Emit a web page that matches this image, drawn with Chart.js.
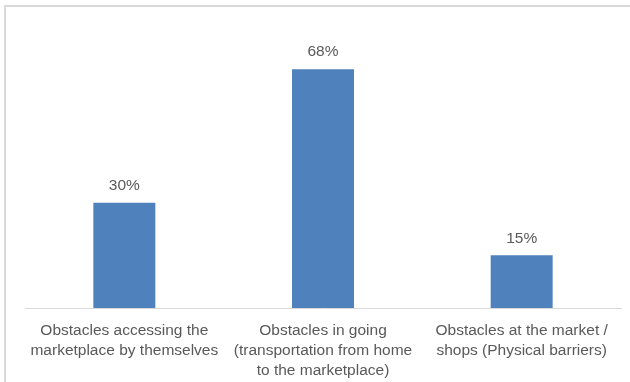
<!DOCTYPE html>
<html>
<head>
<meta charset="utf-8">
<script src="https://cdn.jsdelivr.net/npm/chart.js@4/dist/chart.umd.min.js"></script>
<style>
  html, body { margin: 0; padding: 0; background: #ffffff; }
  body { width: 630px; height: 382px; position: relative; overflow: hidden; }
  #frame {
    position: absolute; left: 4px; top: 5px; width: 700px; height: 460px;
    border-left: 2px solid #d9d9d9; border-top: 2px solid #d9d9d9;
    box-sizing: border-box;
  }
  #wrap { position: absolute; left: 0; top: 0; width: 630px; height: 382px; }
</style>
</head>
<body>
<div id="frame"></div>
<div id="wrap"><canvas id="chart" width="630" height="382"></canvas></div>
<script>
// Categories (one array of lines per label) and their shares in percent
const categories = [
  ["Obstacles accessing the", "marketplace by themselves"],
  ["Obstacles in going", "(transportation from home", "to the marketplace)"],
  ["Obstacles at the market /", "shops (Physical barriers)"]
];
const shares = [30, 68, 15];

const textColor = "#595959";
const fontFamily = "'Liberation Sans', Arial, sans-serif";

// Writes the percentage above each bar
const valueLabels = {
  id: "valueLabels",
  afterDatasetsDraw(chart) {
    const ctx = chart.ctx;
    const meta = chart.getDatasetMeta(0);
    ctx.save();
    ctx.font = "15.5px " + fontFamily;
    ctx.fillStyle = textColor;
    ctx.textAlign = "center";
    ctx.textBaseline = "middle";
    meta.data.forEach((bar, i) => {
      ctx.fillText(chart.data.datasets[0].data[i] + "%", bar.x, bar.y - 17);
    });
    ctx.restore();
  }
};

new Chart(document.getElementById("chart"), {
  type: "bar",
  data: {
    labels: categories,
    datasets: [{
      data: shares,
      backgroundColor: "#4F81BD",
      borderWidth: 0,
      categoryPercentage: 1,
      barPercentage: 0.312
    }]
  },
  options: {
    responsive: false,
    animation: false,
    layout: { padding: { left: 25, right: 9, top: 27, bottom: 0 } },
    plugins: { legend: { display: false }, tooltip: { enabled: false } },
    scales: {
      y: { display: false, min: 0, max: 80 },
      x: {
        grid: { display: false, drawTicks: false },
        border: { display: true, color: "#d9d9d9", width: 1 },
        ticks: {
          color: textColor,
          font: { family: fontFamily, size: 15.5, lineHeight: 1.28 },
          padding: 13,
          maxRotation: 0,
          autoSkip: false
        },
        afterFit(scale) { scale.height = 74; }
      }
    }
  },
  plugins: [valueLabels]
});
</script>
</body>
</html>
